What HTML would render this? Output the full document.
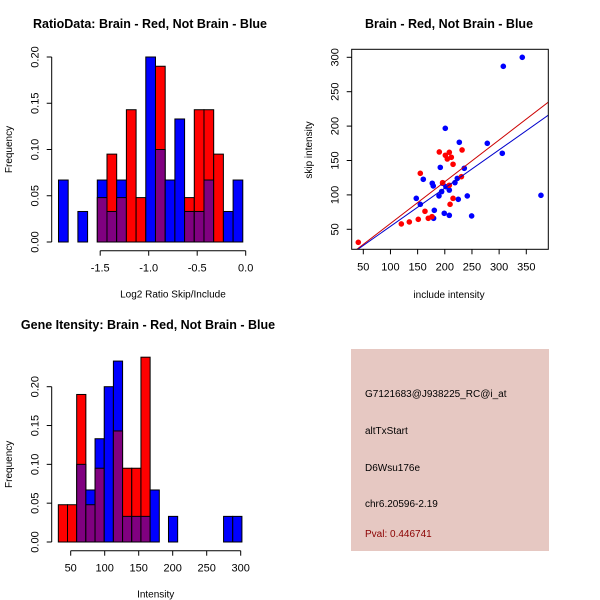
<!DOCTYPE html>
<html><head><meta charset="utf-8"><style>
body{margin:0;background:#fff}
svg{display:block;font-family:"Liberation Sans",Arial,sans-serif}
</style></head><body>
<svg id="c" width="600" height="600" viewBox="0 0 600 600">
<g id="p1"></g>
<g id="p2"></g>
<g id="p3"></g>
<g id="p4">
<rect x="351" y="349" width="198" height="202" fill="#e6c8c2"/>
<text x="365" y="397" font-size="10">G7121683@J938225_RC@i_at</text>
<text x="365" y="434" font-size="10">altTxStart</text>
<text x="365" y="471" font-size="10">D6Wsu176e</text>
<text x="365" y="507" font-size="10">chr6.20596-2.19</text>
<text x="365" y="537" font-size="10" fill="#8b0000">Pval: 0.446741</text>
</g>
</svg>
<script>
// Ratio histogram data
const ratioBinStart = -1.93, ratioBinWidth = 0.1;
const ratioRed  = [0,0,0,0,0.048,0.095,0.048,0.143,0.048,0,0.19,0,0,0.048,0.143,0.143,0.095,0,0];
const ratioBlue = [0.067,0,0.033,0,0.067,0.033,0.067,0,0,0.2,0.1,0.067,0.133,0.033,0.033,0.067,0,0.033,0.067];
const ratioXTicks = [-1.5,-1.0,-0.5,0.0];
const ratioXLabels = ["-1.5","-1.0","-0.5","0.0"];
const freqTicks = [0,0.05,0.10,0.15,0.20];
const freqLabels = ["0.00","0.05","0.10","0.15","0.20"];
// Intensity histogram data
const intBinStart = 31.8, intBinWidth = 13.5;
const intRed  = [0.048,0.048,0.19,0.048,0.095,0,0.143,0.095,0.095,0.238,0,0,0,0,0,0,0,0,0,0];
const intBlue = [0,0,0.1,0.067,0.133,0.2,0.233,0.033,0.033,0.033,0.067,0,0.033,0,0,0,0,0,0.033,0.033];
const intXTicks = [50,100,150,200,250,300];
// Scatter data
const brainX = [40.8,154.9,189.9,201,208.3,212,204.6,215.2,231.8,230.6,208.3,215.2,209.7,163.5,151.2,169.6,176.4,134.7,120,196];
const brainY = [31.1,131.4,162.4,157.6,161.9,154.7,152.2,144.5,165.3,126.5,114,95,86.3,76.2,64.5,66,68.4,60.7,57.8,117.8];
const notX = [342.6,307.7,377,200.9,226.7,278.2,305.8,191.7,235.9,160.4,176.9,178.8,196,202,208.3,218.7,223,194.2,189.3,147.5,241.4,224.8,154.9,180.7,199,208.3,179.4,249.4];
const notY = [300,286.9,99.4,196.8,176.5,175,160.5,140,138.7,122.7,116.9,113,116.9,112,107,117.8,124,104.8,98.5,95,98.5,93.6,86.3,77.6,73.3,70.3,66,69.4];
const fitRed = [-2.2,0.607];
const fitBlue = [-1.3,0.556];
const scXTicks = [50,100,150,200,250,300,350];
const scYTicks = [50,100,150,200,250,300];

const NS="http://www.w3.org/2000/svg";
function mk(parent,tag,attrs,name,txt){const e=document.createElementNS(NS,tag);for(const k in attrs)e.setAttribute(k,attrs[k]);


if(txt!==undefined)e.textContent=txt;parent.appendChild(e);return e;}
function line(p,x1,y1,x2,y2,name,col,w){return mk(p,'line',{x1,y1,x2,y2,stroke:col||'#000','stroke-width':w||1},name);}

function histogram(g,opt){
  const sx=v=>opt.x0+(v-opt.d0)*opt.kx, sy=v=>opt.y0-v*opt.ky;
  for(let i=0;i<opt.red.length;i++){
    const a=opt.bs+i*opt.bw, b=a+opt.bw, r=opt.red[i], bl=opt.blue[i];
    const x1=sx(a),x2=sx(b);
    const hi=Math.max(r,bl), lo=Math.min(r,bl);
    if(hi>0){mk(g,'rect',{x:x1,y:sy(hi),width:x2-x1,height:sy(0)-sy(hi),fill:r>=bl?'#ff0000':'#0000ff',stroke:'#000','stroke-width':1},'bar-'+i);}
    if(lo>0){mk(g,'rect',{x:x1,y:sy(lo),width:x2-x1,height:sy(0)-sy(lo),fill:'#800080',stroke:'#000','stroke-width':1},'overlap-bar-'+i);}
  }
  line(g,opt.ax,sy(0),opt.ax,sy(opt.yt[opt.yt.length-1]),'y-axis');
  opt.yt.forEach((t,i)=>{line(g,opt.ax-5,sy(t),opt.ax,sy(t),'y-tick');
    mk(g,'text',{x:opt.ax-13,y:sy(t),'font-size':11,'text-anchor':'middle',transform:`rotate(-90 ${opt.ax-13} ${sy(t)})`},'y-tick-label',opt.yl[i]);});
  line(g,sx(opt.xt[0]),opt.axy,sx(opt.xt[opt.xt.length-1]),opt.axy,'x-axis');
  opt.xt.forEach((t,i)=>{line(g,sx(t),opt.axy,sx(t),opt.axy+5,'x-tick');
    mk(g,'text',{x:sx(t),y:opt.axy+21,'font-size':11,'text-anchor':'middle'},'x-tick-label',opt.xl[i]);});
  mk(g,'text',{x:opt.tx,y:opt.ty,'font-size':12.5,'font-weight':'bold','text-anchor':'middle'},'chart-title',opt.title);
  mk(g,'text',{x:(sx(opt.xt[0])+sx(opt.xt[opt.xt.length-1]))/2,y:opt.axy+47,'font-size':10,'text-anchor':'middle'},'x-axis-title',opt.xlab);
  const cy=(sy(0)+sy(opt.yt[opt.yt.length-1]))/2;
  mk(g,'text',{x:12,y:cy,'font-size':10,'text-anchor':'middle',transform:`rotate(-90 12 ${cy})`},'y-axis-title','Frequency');
}
histogram(document.getElementById('p1'),{red:ratioRed,blue:ratioBlue,bs:ratioBinStart,bw:ratioBinWidth,
  x0:245.7,d0:0,kx:97,y0:242,ky:925,ax:51.7,axy:250.7,yt:freqTicks,yl:freqLabels,xt:ratioXTicks,xl:ratioXLabels,
  tx:150,ty:28,title:'RatioData: Brain - Red, Not Brain - Blue',xlab:'Log2 Ratio Skip/Include'});
histogram(document.getElementById('p3'),{red:intRed,blue:intBlue,bs:intBinStart,bw:intBinWidth,
  x0:70.7,d0:50,kx:0.68,y0:542,ky:776.5,ax:51.7,axy:550.7,yt:freqTicks,yl:freqLabels,xt:intXTicks,xl:intXTicks.map(String),
  tx:148,ty:329,title:'Gene Itensity: Brain - Red, Not Brain - Blue',xlab:'Intensity'});

(function(){
  const g=document.getElementById('p2');
  const L=351.7,R=548.3,T=49.3,B=249.3;
  const sx=v=>363.3+(v-50)*0.5433, sy=v=>229.3-(v-50)*0.688;
  const dx0=50+(L-363.3)/0.5433, dx1=50+(R-363.3)/0.5433;
  const cp=mk(g,'clipPath',{id:'scclip'},'clip');
  mk(cp,'rect',{x:L,y:T,width:R-L,height:B-T},'clip-rect');
  const pts=mk(g,'g',{'clip-path':'url(#scclip)'},'plot-area');
  notX.forEach((x,i)=>mk(pts,'circle',{cx:sx(x),cy:sy(notY[i]),r:2.8,fill:'#0000ff'},'not-brain-point'));
  brainX.forEach((x,i)=>mk(pts,'circle',{cx:sx(x),cy:sy(brainY[i]),r:2.8,fill:'#ff0000'},'brain-point'));
  [[fitRed,'#cc0000','brain-fit-line'],[fitBlue,'#0000cc','not-brain-fit-line']].forEach(([f,c,n])=>{
    line(pts,sx(dx0),sy(f[0]+f[1]*dx0),sx(dx1),sy(f[0]+f[1]*dx1),n,c,1);});
  mk(g,'rect',{x:L,y:T,width:R-L,height:B-T,fill:'none',stroke:'#000'},'plot-box');
  scXTicks.forEach(t=>{line(g,sx(t),B,sx(t),B+5,'x-tick');
    mk(g,'text',{x:sx(t),y:B+21,'font-size':11,'text-anchor':'middle'},'x-tick-label',String(t));});
  scYTicks.forEach(t=>{line(g,L-5,sy(t),L,sy(t),'y-tick');
    mk(g,'text',{x:L-13,y:sy(t),'font-size':11,'text-anchor':'middle',transform:`rotate(-90 ${L-13} ${sy(t)})`},'y-tick-label',String(t));});
  mk(g,'text',{x:449,y:28,'font-size':12.5,'font-weight':'bold','text-anchor':'middle'},'chart-title','Brain - Red, Not Brain - Blue');
  mk(g,'text',{x:449,y:298,'font-size':10,'text-anchor':'middle'},'x-axis-title','include intensity');
  mk(g,'text',{x:312,y:150,'font-size':10,'text-anchor':'middle',transform:'rotate(-90 312 150)'},'y-axis-title','skip intensity');
})();
</script>
</body></html>
